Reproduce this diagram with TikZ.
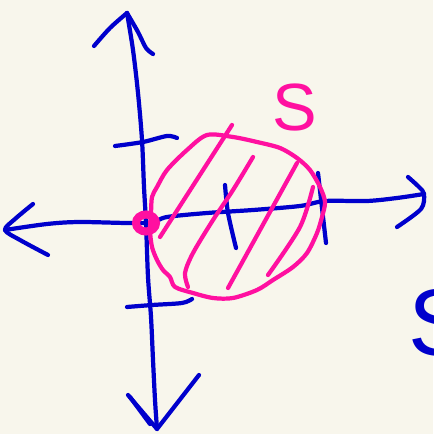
\documentclass[tikz,border=0pt]{standalone}
\usepackage{fontspec}
\setmainfont{Liberation Sans}
\usepackage{tikz}

\definecolor{paper}{HTML}{F8F6EC}
\definecolor{penblue}{HTML}{0000CC}
\definecolor{penpink}{HTML}{FF10A0}

\begin{document}
\begin{tikzpicture}[
    x=0.01cm, y=-0.01cm,
    every node/.style={inner sep=0pt},
    axis/.style={draw=penblue, line width=1.2pt, line cap=round, line join=round},
    tickmark/.style={draw=penblue, line width=1.2pt, line cap=round},
    region/.style={draw=penpink, line width=1.2pt, line cap=round, line join=round},
    hatch/.style={draw=penpink, line width=1.2pt, line cap=round},
    origin/.style={draw=penpink, line width=2.3pt},
    lblpink/.style={text=penpink, font=\fontsize{19}{19}\selectfont},
    lblblue/.style={text=penblue, font=\fontsize{27}{27}\selectfont, anchor=west}
]
\fill[paper] (0,0) rectangle (433,434);
\useasboundingbox (0,0) rectangle (433,434);
\clip (0,0) rectangle (433,434);

\coordinate (top) at (127,13);
\coordinate (bot) at (157,429);
\coordinate (left) at (5,230);
\coordinate (right) at (424,194);
\coordinate (o) at (146,223);

\draw[axis] plot[smooth] coordinates {(top) (133,50) (138,93) (142,140) (144,187)
    (o) (148,277) (151,317) (153,360) (155,400) (bot)};
\draw[axis] plot[smooth] coordinates {(94,46) (110,28) (top)};
\draw[axis] plot[smooth] coordinates {(top) (138,32) (146,48) (153,54)};
\draw[axis] (128,395) -- (bot) -- (199,375);
\draw[axis] (130,397) -- (150,424);

\draw[axis] plot[smooth] coordinates {(left) (47,224) (80,222) (o) (167,217)
    (207,213) (253,210) (300,206) (325,201) (367,201) (397,198) (right)};
\draw[axis] plot[smooth] coordinates {(33,204) (15,219) (left) (20,240) (48,255)};
\draw[axis] plot[smooth] coordinates {(408,177) (419,187) (right) (421,209) (397,227)};

\draw[tickmark] plot[smooth] coordinates {(115,146) (143,142) (167,136) (177,138)};
\draw[tickmark] plot[smooth] coordinates {(127,307) (152,305) (182,303) (192,299)};
\draw[tickmark] plot[smooth] coordinates {(225,185) (228,213) (236,248)};
\draw[tickmark] (318,173) -- (326,243);

\draw[region] plot[smooth cycle] coordinates {(152,197) (157,187) (167,170) (187,150)
    (207,135) (233,137) (257,142) (280,148) (297,158) (310,170) (320,187)
    (325,202) (322,217) (317,233) (307,253) (293,267) (273,280) (257,290)
    (233,298) (213,298) (193,293) (175,287) (170,277) (163,270) (157,260)
    (152,247) (150,230) (151,213)};

\draw[hatch] (232,125) -- (160,237);
\draw[hatch] plot[smooth] coordinates {(253,157) (233,190) (213,220) (193,253) (185,273) (188,287)};
\draw[hatch] (297,163) -- (228,288);
\draw[hatch] plot[smooth] coordinates {(313,187) (300,227) (268,275)};

\draw[origin] (o) ellipse [x radius=10, y radius=8.5];

\node[lblpink] (setS) at (295,108) {S};
\node[lblblue] (sideS) at (408,323) {S};
\end{tikzpicture}
\end{document}
